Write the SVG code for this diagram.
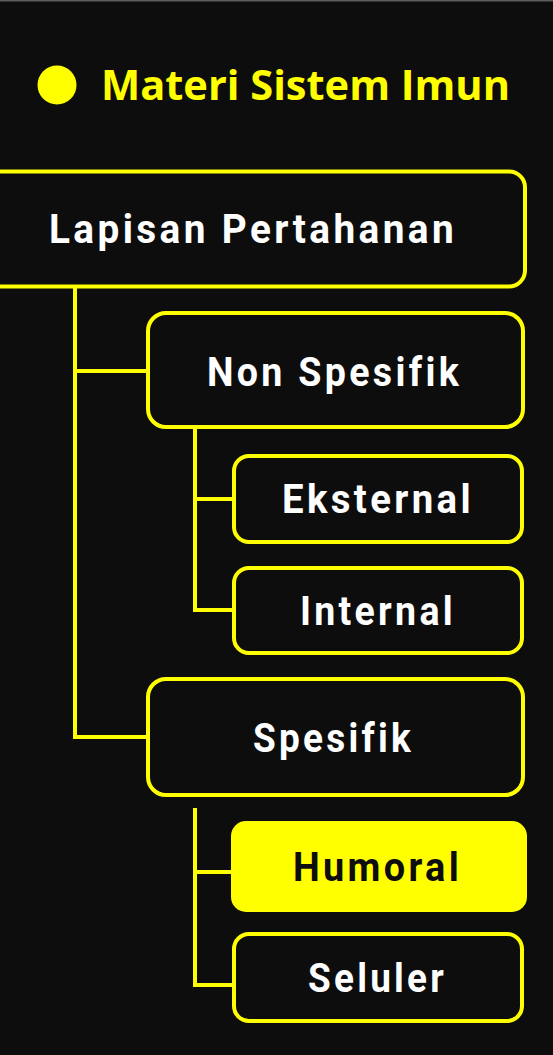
<svg xmlns="http://www.w3.org/2000/svg" width="553" height="1055" viewBox="0 0 553 1055">
<style>
.box{fill:#0d0d0d;stroke:#ffff00;stroke-width:4}
.lbl{font-family:Roboto,"Liberation Sans",sans-serif;font-weight:700;font-size:40px;letter-spacing:3.5px;fill:#ffffff;text-anchor:middle}
.conn{stroke:#ffff00;stroke-width:4;fill:none}
</style>
<rect x="0" y="0" width="553" height="1055" fill="#0d0d0d"/>
<rect x="0" y="0" width="553" height="1.5" fill="#5c5c5c"/>
<g id="title">
<circle cx="57" cy="85" r="19.5" fill="#ffff00"/>
<text x="101" y="100" font-family="'Open Sans','Noto Sans',sans-serif" font-weight="700" font-size="41" fill="#ffff00" textLength="409" lengthAdjust="spacingAndGlyphs">Materi Sistem Imun</text>
</g>
<g id="connectors">
<path class="conn" d="M75 288V737H148M75 371H148"/>
<path class="conn" d="M195 428V610H234M195 499H234"/>
<path class="conn" d="M195 808V985H234M195 872H232"/>
</g>
<g id="lapisan">
<rect class="box" x="-20" y="171.5" width="545" height="115" rx="16"/>
<text class="lbl" x="253" y="243" textLength="408" lengthAdjust="spacingAndGlyphs">Lapisan Pertahanan</text>
</g>
<g id="nonspesifik">
<rect class="box" x="148" y="313" width="375" height="114" rx="18"/>
<text class="lbl" x="334.5" y="386" textLength="255" lengthAdjust="spacingAndGlyphs">Non Spesifik</text>
</g>
<g id="eksternal">
<rect class="box" x="234" y="456" width="288" height="86" rx="15"/>
<text class="lbl" x="378" y="513" textLength="192" lengthAdjust="spacingAndGlyphs">Eksternal</text>
</g>
<g id="internal">
<rect class="box" x="234" y="568" width="288" height="85" rx="15"/>
<text class="lbl" x="378" y="625" textLength="156" lengthAdjust="spacingAndGlyphs">Internal</text>
</g>
<g id="spesifik">
<rect class="box" x="148" y="679" width="375" height="116" rx="18"/>
<text class="lbl" x="333.5" y="752" textLength="161" lengthAdjust="spacingAndGlyphs">Spesifik</text>
</g>
<g id="humoral">
<rect x="231" y="821" width="296" height="91" rx="15" fill="#ffff00"/>
<text class="lbl" x="377.5" y="881" textLength="169" lengthAdjust="spacingAndGlyphs" style="fill:#0d0d0d">Humoral</text>
</g>
<g id="seluler">
<rect class="box" x="234" y="934" width="288" height="87" rx="15"/>
<text class="lbl" x="377.5" y="992" textLength="139" lengthAdjust="spacingAndGlyphs">Seluler</text>
</g>
</svg>
